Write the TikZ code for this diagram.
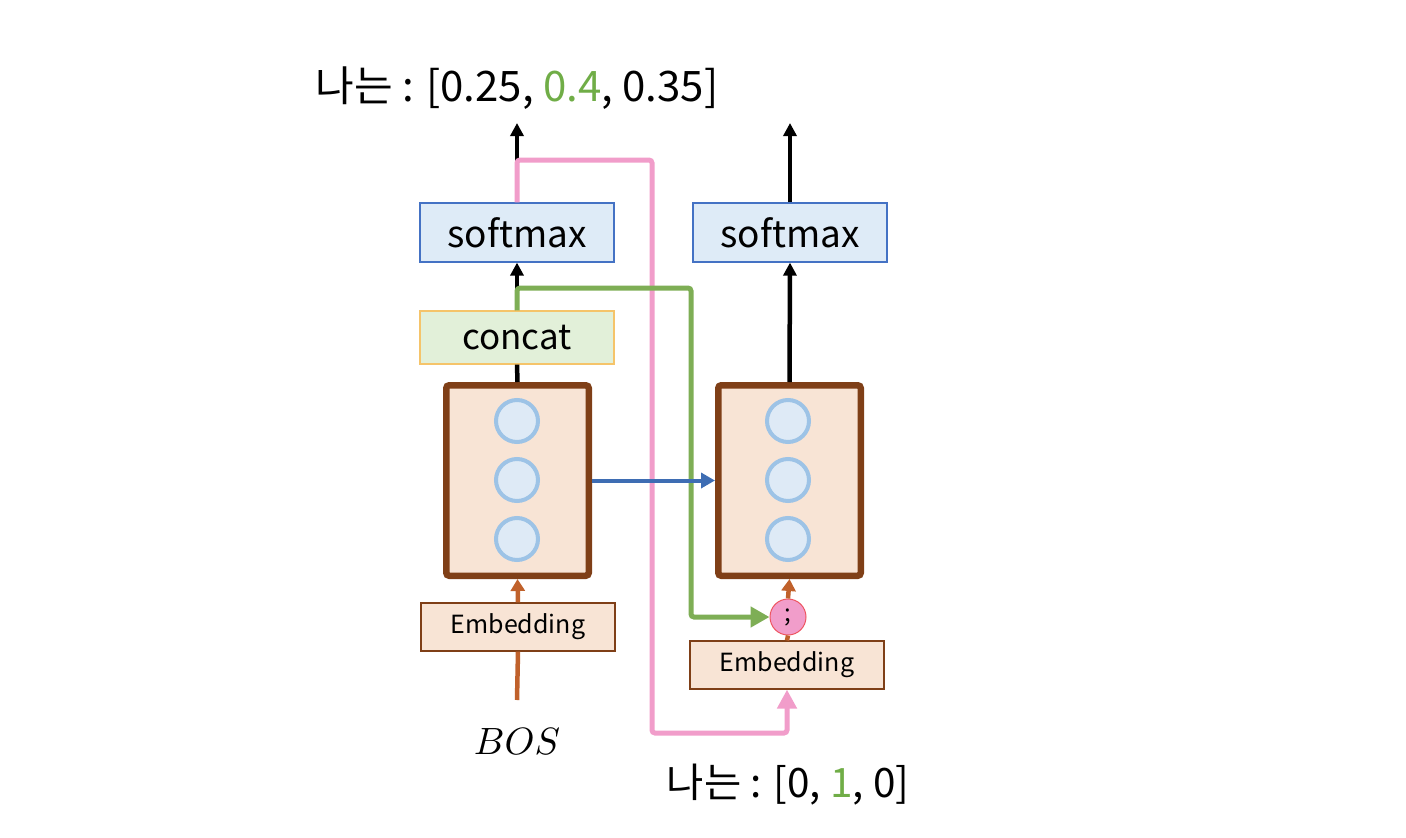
\documentclass[tikz,border=0pt]{standalone}
\usepackage{fontspec}
\setmainfont{Noto Sans CJK KR}
\usetikzlibrary{arrows.meta,positioning}
\definecolor{smfill}{HTML}{DEEBF7}
\definecolor{smline}{HTML}{4472C4}
\definecolor{ccfill}{HTML}{E2F0D9}
\definecolor{ccline}{HTML}{F5C46A}
\definecolor{cellfill}{HTML}{F8E4D5}
\definecolor{cellline}{HTML}{7F3F17}
\definecolor{unitfill}{HTML}{DEEAF6}
\definecolor{unitline}{HTML}{9DC3E6}
\definecolor{orarrow}{HTML}{C0612B}
\definecolor{blarrow}{HTML}{3E6DB3}
\definecolor{pkarrow}{HTML}{F19DCA}
\definecolor{grarrow}{HTML}{7EAE55}
\definecolor{grtext}{HTML}{70AD47}
\definecolor{semiline}{HTML}{EE5560}
\begin{document}
\begin{tikzpicture}[x=1pt,y=-1pt,
 smbox/.style={draw=smline,fill=smfill,line width=1.2pt,minimum width=194pt,minimum height=59pt,inner sep=0pt,font=\fontsize{37}{37}\selectfont},
 ccbox/.style={smbox,draw=ccline,fill=ccfill,minimum height=53pt,font=\fontsize{35}{35}\selectfont},
 embbox/.style={draw=cellline,fill=cellfill,line width=1.2pt,minimum width=194pt,minimum height=48pt,inner sep=0pt,font=\fontsize{25}{25}\selectfont},
 cell/.style={draw=cellline,fill=cellfill,line width=6.5pt,rounded corners=3pt,minimum width=142.5pt,minimum height=190.5pt,inner sep=0pt},
 unit/.style={circle,draw=unitline,fill=unitfill,line width=4pt,minimum size=42pt,inner sep=0pt},
 semi/.style={circle,draw=semiline,fill=pkarrow,line width=1pt,minimum size=36pt,inner sep=0pt,font=\fontsize{24}{24}\selectfont},
 lbl/.style={inner sep=0pt,font=\fontsize{42}{42}\selectfont},
 bkline/.style={line width=4.5pt,black,-{Triangle[length=13pt,width=13pt]}},
 orline/.style={line width=4.5pt,orarrow},
 blline/.style={line width=4pt,blarrow,-{Triangle[length=14pt,width=15pt]}},
 pkline/.style={line width=5pt,pkarrow,rounded corners=3pt},
 grline/.style={line width=5pt,grarrow,rounded corners=3pt,-{Triangle[length=19pt,width=20pt]}}]
\useasboundingbox (0,0) rectangle (1406,838);
\node[lbl] (lout) at (517,88) {나는 : [0.25, \textcolor{grtext}{0.4}, 0.35]};
\node[lbl,font=\fontsize{40.5}{40.5}\selectfont] (rin) at (788,785) {나는 : [0, \textcolor{grtext}{1}, 0]};
\node[smbox] (lsm) at (517,232.5) {softmax};
\node[smbox] (rsm) at (790,232.5) {softmax};
\node[ccbox] (concat) at (517,337.5) {concat};
\node[cell] (lcell) at (517.5,480.5) {};
\node[cell] (rcell) at (789.5,480.5) {};
\foreach \n/\y in {1/421,2/480,3/539} {
 \node[unit] (lu\n) at (517,\y) {};
 \node[unit] (ru\n) at (788,\y) {};
}
\node[embbox] (emb1) at (518,627) {Embedding};
\node[embbox] (emb2) at (787,665) {Embedding};
\node[semi] (cat) at (788,617) {;};
\node[inner sep=0pt,scale=3.8] (bos) at (517,742) {$BOS$};
\coordinate (ltip) at (517,123);
\coordinate (rtip) at (790,123);
\coordinate (bosin) at (517,700);
\coordinate (pkturn) at (652,160);
\coordinate (pkbottom) at (652,733);
\coordinate (grturn) at (691,288);
\draw[bkline] (lsm.north) -- (ltip);
\draw[bkline] (concat.north) -- (lsm.south);
\draw[bkline,-] (lcell.north) -- (concat.south);
\draw[bkline] (rcell.north) -- (rsm.south);
\draw[bkline] (rsm.north) -- (rtip);
\draw[orline] (bosin) -- (emb1.south);
\draw[orline,-{Triangle[length=12pt,width=14pt]}] (emb1.north) -- (lcell.south);
\draw[orline] (emb2.north) -- (cat.south);
\draw[orline,-{Triangle[length=12pt,width=14pt]}] (cat.north) -- (rcell.south);
\draw[pkline,-{Triangle[length=19pt,width=19pt]}] (lsm.north) |- (pkturn) |- (pkbottom) -| (emb2.south);
\draw[grline] (concat.north) |- (grturn) |- (cat.west);
\draw[blline] (lcell.east) -- (rcell.west);
\end{tikzpicture}
\end{document}
